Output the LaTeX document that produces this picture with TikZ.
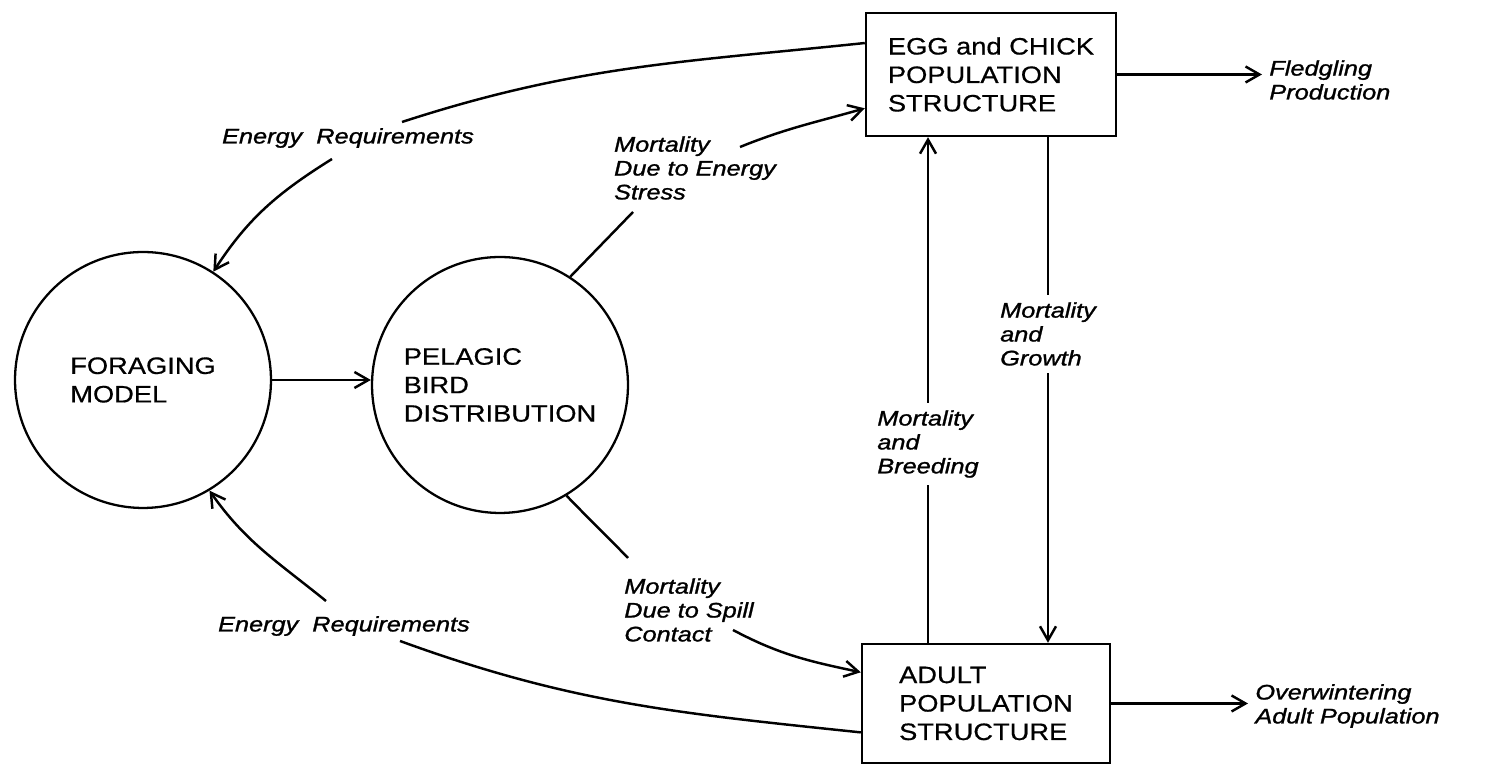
\documentclass[tikz,border=0pt]{standalone}
\usepackage{fontspec}
\setmainfont{Liberation Sans}
\newfontfamily\capsfont[FakeStretch=1.15,FakeBold=0.6]{Liberation Sans}
\newfontfamily\lblfont[FakeStretch=1.2,FakeBold=1.2]{Liberation Sans}
\usetikzlibrary{arrows.meta,calc}

\begin{document}
\begin{tikzpicture}[x=0.02cm,y=0.02cm]
		\tikzset{
			model/.style ={
				circle, %circular model node
				minimum size =5.12cm, %diameter
				inner sep=0pt,
				draw=black,
				line width=1.3pt,
				align=left,
				font=\capsfont\fontsize{13.5}{16.2}\selectfont
			},
			box/.style ={
				rectangle, %population box
				draw=black,
				line width=1.4pt,
				align=left,
				font=\capsfont\fontsize{13.5}{16.2}\selectfont
			},
			lbl/.style ={
				align=left, %italic flow label
				inner sep=4pt,
				font=\lblfont\itshape\fontsize{12}{13.6}\selectfont
			},
			arr/.style ={
				line width=1.4pt,
				-{Straight Barb[length=2.8mm,width=3.2mm]}
			},
			flow/.style ={
				line width=1.4pt
			}
		}
		\useasboundingbox (0,0) rectangle (1485,766);
		% models
		\node[model] (fm) at (143,386) {FORAGING\\MODEL};
		\node[model] (pb) at (500,381) {PELAGIC\\BIRD\\DISTRIBUTION};
		% population boxes
		\node[box,minimum width=5cm,minimum height=2.46cm] (egg) at (991,691.5) {EGG and CHICK\\POPULATION\\STRUCTURE};
		\node[box,minimum width=4.96cm,minimum height=2.38cm] (adult) at (986,62.5) {ADULT\\POPULATION\\STRUCTURE};
		% labels
		\node[lbl] (er1) at (348,628) {Energy\ \ Requirements};
		\node[lbl] (ms) at (695,598) {Mortality\\Due to Energy\\Stress};
		\node[lbl] (msp) at (689,156) {Mortality\\Due to Spill\\Contact};
		\node[lbl] (er2) at (344,140) {Energy\ \ Requirements};
		\node[lbl] (mb) at (928,322) {Mortality\\and\\Breeding};
		\node[lbl] (mg) at (1048,432) {Mortality\\and\\Growth};
		\node[lbl,anchor=west] (fl) at (1262,686) {Fledgling\\Production};
		\node[lbl,anchor=west] (ow) at (1248,60) {Overwintering\\Adult Population};
		% connectors
		\draw[arr] (fm.east) -- (fm.east -| pb.west);
		\draw[flow] (egg.166) to[out=186,in=18] ($(er1)+(54,16)$);
		\draw[arr] ($(er1)+(-16,-21)$) to[out=212,in=57] (fm.57);
		\draw[flow] (pb.57) to[out=46,in=226] ($(ms)+(-62,-44)$);
		\draw[arr] ($(ms)+(45,21)$) to[out=22,in=196] (egg.195);
		\draw[flow] (pb.-59) to[out=-46,in=134] ($(msp)+(-61,52)$);
		\draw[arr] ($(msp)+(44,-20)$) to[out=-28,in=168] (adult.166);
		\draw[flow] (adult.193) to[out=174,in=-20] ($(er2)+(56,-15)$);
		\draw[arr] ($(er2)+(-18,25)$) to[out=141,in=-55] (fm.-59);
		\draw[flow] (adult.north -| mb) -- (mb.south);
		\draw[arr] (mb.north) -- (mb.north |- egg.south);
		\draw[flow] (egg.south -| mg) -- (mg.north);
		\draw[arr] (mg.south) -- (mg.south |- adult.north);
		\draw[arr] (egg.east) -- (egg.east -| fl.west);
		\draw[arr] (adult.east) -- (adult.east -| ow.west);
	\end{tikzpicture}
\end{document}
